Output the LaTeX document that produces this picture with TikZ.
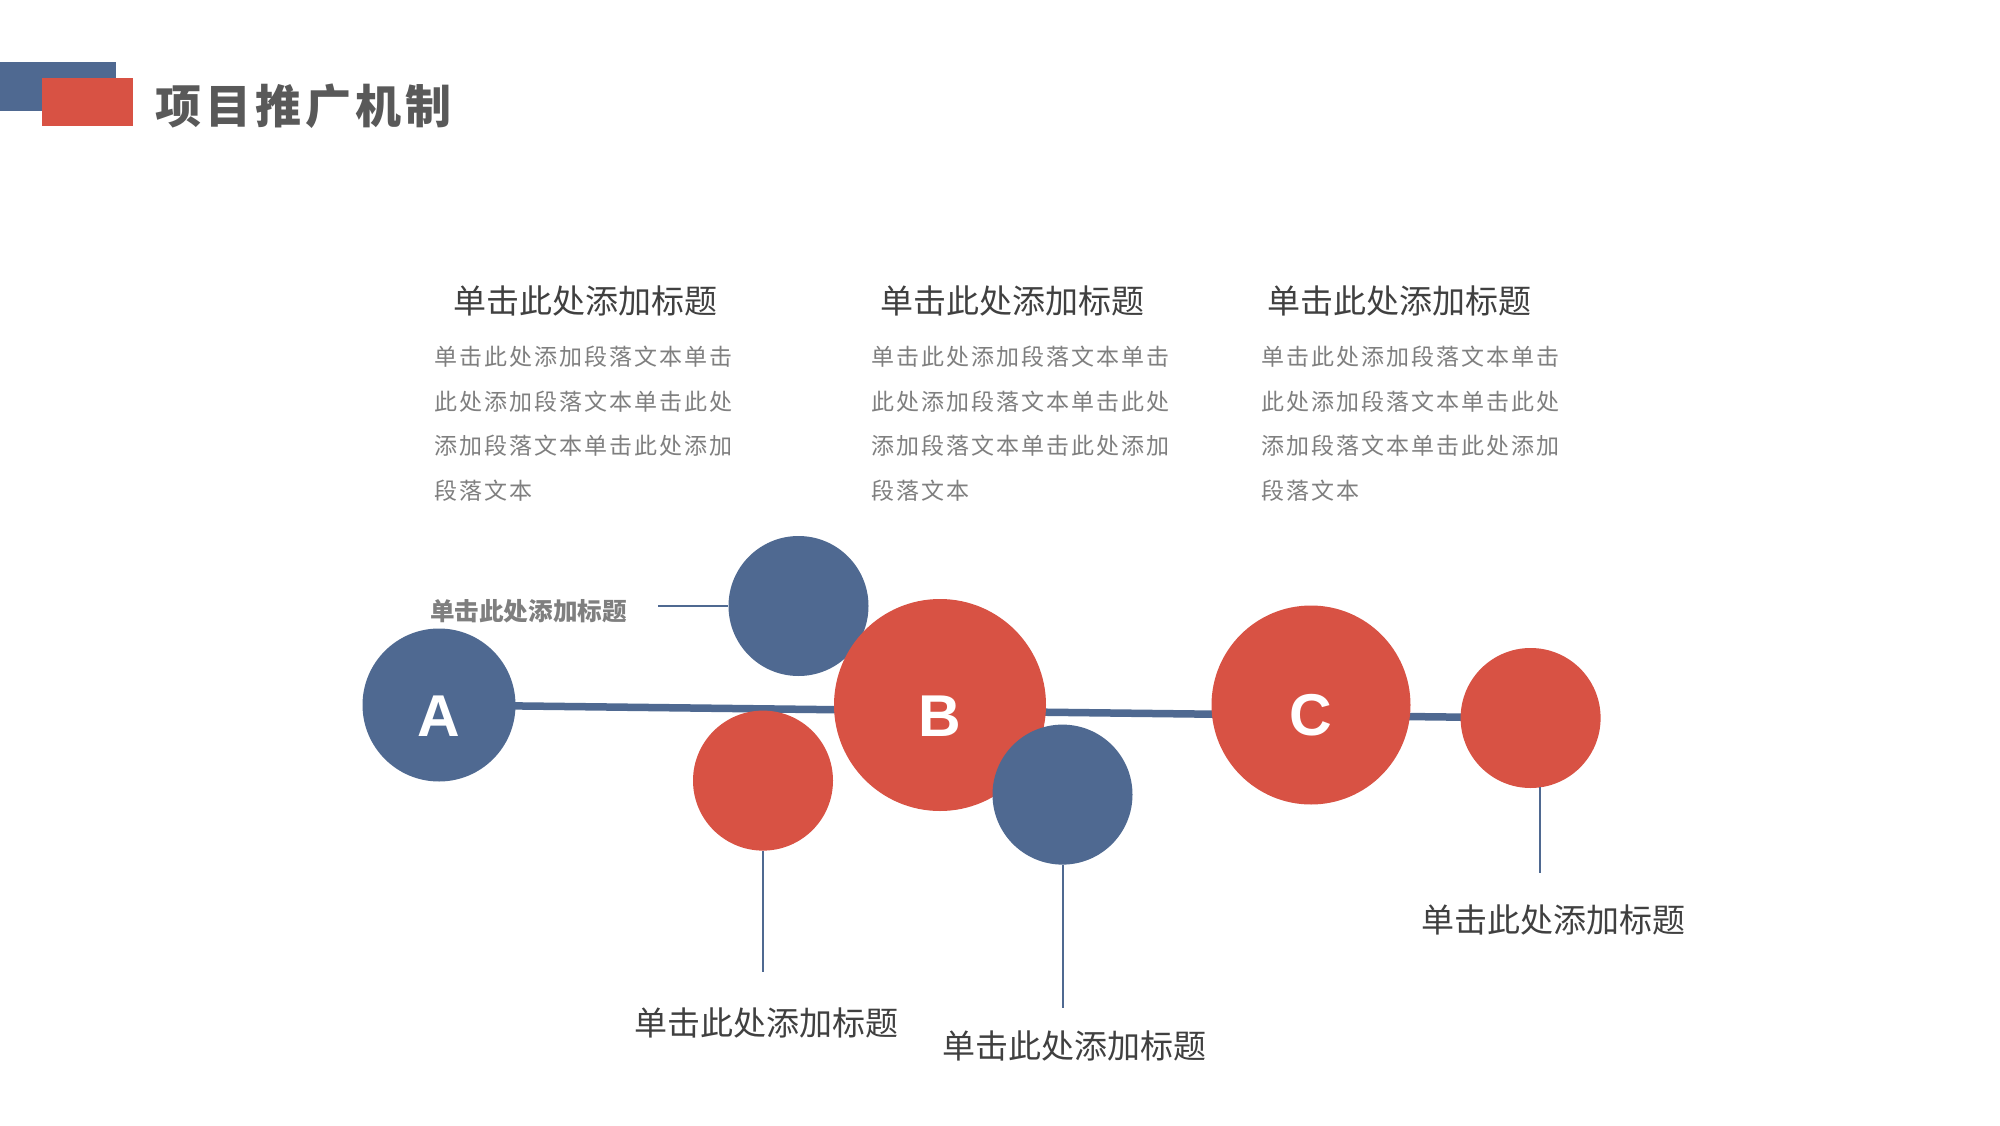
\documentclass[tikz,border=0pt]{standalone}
\usepackage{fontspec}
\newfontfamily\cjk{Noto Sans CJK SC}
\newfontfamily\cjkt[LetterSpace=9]{Noto Sans CJK SC}
\newfontfamily\cjkbody[LetterSpace=9]{Noto Sans CJK SC}
\newfontfamily\latin{Liberation Sans}
\definecolor{myblue}{RGB}{79,105,145}
\definecolor{myred}{RGB}{216,82,68}
\definecolor{titlegray}{RGB}{89,89,89}
\definecolor{darkgray}{RGB}{64,64,64}
\definecolor{bodygray}{RGB}{127,127,127}
\tikzset{
  bubble/.style={circle, inner sep=0pt, text=white, font=\latin\bfseries\fontsize{59}{59}\selectfont, text height=62pt},
  bluebubble/.style={bubble, fill=myblue},
  redbubble/.style={bubble, fill=myred},
  coltitle/.style={font=\cjk\fontsize{33}{38}\selectfont, text=darkgray, inner sep=0pt},
  bodytext/.style={font=\cjkbody\fontsize{23}{44.6}\selectfont, text=bodygray, align=left, anchor=north west, inner sep=0pt},
  leader/.style={draw=myblue, line width=2pt},
  mainline/.style={draw=myblue, line width=7.5pt}
}
\begin{document}
\begin{tikzpicture}[x=1pt,y=-1pt]
\useasboundingbox[fill=white] (0,0) rectangle (2000,1126);
% header
\fill[myblue] (0,62.5) rectangle (116,111);
\fill[myred] (42,78) rectangle (133,126);
\node[anchor=west, inner sep=0pt, text=titlegray, font=\cjkt\bfseries\fontsize{46}{50}\selectfont] (title) at (155,106) {项目推广机制};
% column titles
\node[coltitle] (t1) at (585,301) {单击此处添加标题};
\node[coltitle] (t2) at (1012,301) {单击此处添加标题};
\node[coltitle] (t3) at (1399,301) {单击此处添加标题};
% body texts
\node[bodytext] (b1) at (434,346) {单击此处添加段落文本单击\\此处添加段落文本单击此处\\添加段落文本单击此处添加\\段落文本};
\node[bodytext] (b2) at (871,346) {单击此处添加段落文本单击\\此处添加段落文本单击此处\\添加段落文本单击此处添加\\段落文本};
\node[bodytext] (b3) at (1261,346) {单击此处添加段落文本单击\\此处添加段落文本单击此处\\添加段落文本单击此处添加\\段落文本};
% main line anchors
\coordinate (lstart) at (439,705);
\coordinate (lend) at (1530.6,718);
\draw[mainline] (lstart) -- (lend);
% circles
\node[bluebubble, minimum size=153pt] (A) at (439,705) {A};
\node[bluebubble, minimum size=140pt] (tb) at (798.5,606) {};
\node[redbubble, minimum size=140pt] (lr) at (763,780.6) {};
\node[redbubble, minimum size=212pt] (B) at (940,705) {B};
\node[bluebubble, minimum size=140pt] (lb) at (1062.5,794.6) {};
\node[redbubble, minimum size=199pt] (C) at (1311,705) {C};
\node[redbubble, minimum size=140pt] (rr) at (1530.6,718) {};
% small bold label and its leader
\node[anchor=east, inner sep=0pt, text=bodygray, font=\cjk\bfseries\fontsize{24.6}{28}\selectfont] (sl) at (627,611) {单击此处添加标题};
\coordinate (slend) at (658,606);
\draw[myblue, line width=2.5pt] (slend) -- (tb.west);
% lower leaders
\coordinate (lrend) at (763,972);
\coordinate (lbend) at (1062.5,1008);
\coordinate (rrend) at (1539.5,872.5);
\draw[leader] (lr.south) -- (lrend);
\draw[leader] (lb.south) -- (lbend);
\draw[leader] (1539.5,787) -- (rrend);
% lower labels
\node[coltitle] (l1) at (766.6,1023) {单击此处添加标题};
\node[coltitle] (l2) at (1074,1046) {单击此处添加标题};
\node[coltitle] (l3) at (1553.6,919.6) {单击此处添加标题};
\end{tikzpicture}
\end{document}
